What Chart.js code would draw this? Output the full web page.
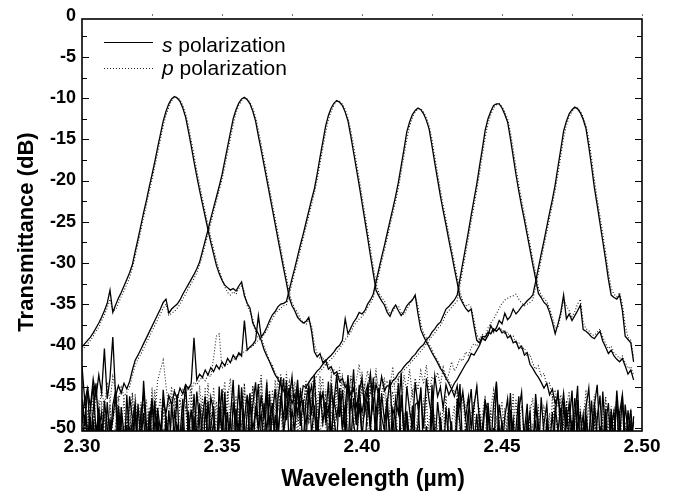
<!DOCTYPE html>
<html>
<head>
<meta charset="utf-8">
<script src="https://cdn.jsdelivr.net/npm/chart.js@4.4.1/dist/chart.umd.min.js"></script>
<style>
  html, body { margin: 0; padding: 0; background: #fff; }
  #wrap { width: 677px; height: 496px; position: relative; }
</style>
</head>
<body>
<div id="wrap"><canvas id="chart"></canvas></div>
<script>
// wavelength grid, µm
const wavelength = [
  2.300, 2.301, 2.302, 2.303, 2.304, 2.305, 2.306, 2.307, 2.308, 2.309,
  2.310, 2.311, 2.312, 2.313, 2.314, 2.315, 2.316, 2.317, 2.318, 2.319,
  2.320, 2.321, 2.322, 2.323, 2.324, 2.325, 2.326, 2.327, 2.328, 2.329,
  2.330, 2.331, 2.332, 2.333, 2.334, 2.335, 2.336, 2.337, 2.338, 2.339,
  2.340, 2.341, 2.342, 2.343, 2.344, 2.345, 2.346, 2.347, 2.348, 2.349,
  2.350, 2.351, 2.352, 2.353, 2.354, 2.355, 2.356, 2.357, 2.358, 2.359,
  2.360, 2.361, 2.362, 2.363, 2.364, 2.365, 2.366, 2.367, 2.368, 2.369,
  2.370, 2.371, 2.372, 2.373, 2.374, 2.375, 2.376, 2.377, 2.378, 2.379,
  2.380, 2.381, 2.382, 2.383, 2.384, 2.385, 2.386, 2.387, 2.388, 2.389,
  2.390, 2.391, 2.392, 2.393, 2.394, 2.395, 2.396, 2.397, 2.398, 2.399,
  2.400, 2.401, 2.402, 2.403, 2.404, 2.405, 2.406, 2.407, 2.408, 2.409,
  2.410, 2.411, 2.412, 2.413, 2.414, 2.415, 2.416, 2.417, 2.418, 2.419,
  2.420, 2.421, 2.422, 2.423, 2.424, 2.425, 2.426, 2.427, 2.428, 2.429,
  2.430, 2.431, 2.432, 2.433, 2.434, 2.435, 2.436, 2.437, 2.438, 2.439,
  2.440, 2.441, 2.442, 2.443, 2.444, 2.445, 2.446, 2.447, 2.448, 2.449,
  2.450, 2.451, 2.452, 2.453, 2.454, 2.455, 2.456, 2.457, 2.458, 2.459,
  2.460, 2.461, 2.462, 2.463, 2.464, 2.465, 2.466, 2.467, 2.468, 2.469,
  2.470, 2.471, 2.472, 2.473, 2.474, 2.475, 2.476, 2.477, 2.478, 2.479,
  2.480, 2.481, 2.482, 2.483, 2.484, 2.485, 2.486, 2.487, 2.488, 2.489,
  2.490, 2.491, 2.492, 2.493, 2.494, 2.495, 2.496, 2.497
];

const xTicks = [2.30, 2.35, 2.40, 2.45, 2.50];
const xTopMarks = [2.325, 2.35, 2.375, 2.40, 2.425, 2.45, 2.475, 2.50];
const yTicks = [-50, -45, -40, -35, -30, -25, -20, -15, -10, -5, 0];
const yMinor = [-50, -47.5, -45, -42.5, -40, -37.5, -35, -32.5, -30, -27.5, -25,
  -22.5, -20, -17.5, -15, -12.5, -10, -7.5, -5, -2.5];

// s polarization, transmittance in dB, one array per channel
const s1 = [
  -40.2,-39.8,-39.4,-39.0,-38.5,-37.9,-37.3,-36.6,-35.8,-34.9,
  -33.3,-36.0,-35.1,-34.3,-33.6,-32.8,-32.0,-31.2,-30.2,-28.6,
  -27.1,-25.5,-23.9,-22.4,-20.8,-19.3,-17.7,-16.0,-14.4,-12.8,
  -11.6,-10.7,-10.1,-9.8,-10.0,-10.4,-11.2,-12.3,-14.0,-15.8,
  -17.7,-19.5,-21.2,-22.8,-24.4,-26.0,-27.5,-28.9,-30.3,-31.3,
  -32.1,-32.7,-33.0,-33.3,-33.1,-33.4,-32.8,-32.3,-34.0,-34.9,
  -35.5,-37.3,-38.0,-38.6,-39.4,-40.5,-41.3,-42.0,-42.8,-43.6,
  -44.1,-44.8,-45.5,-46.2,-45.4,-47.1,-46.0,-48.3,-45.7,-47.8,
  -49.6,-46.4,-44.9,-48.1,-50.7,-46.9,-45.8,-49.2,-47.5,-51.3,
  -46.7,-48.8,-45.9,-50.2,-47.3,-52.0,-46.5,-49.4,-51.8,-47.0,
  -50.9,-53.2,-46.8,-49.9,-52.6,-48.3,-45.2,-51.0,-54.1,-47.6,
  -50.5,-53.4,-49.1,-44.6,-52.7,-55.0,-48.0,-51.6,-54.3,-47.2,
  -46.9,-52.9,-55.6,-49.8,-53.1,-44.8,-51.2,-56.0,-48.7,-52.4,
  -54.8,-47.6,-50.6,-55.3,-46.5,-49.5,-53.7,-56.2,-48.1,-45.3,
  -51.4,-54.5,-48.4,-52.8,-55.9,-47.0,-50.9,-53.9,-44.4,-51.9,
  -49.2,-54.6,-56.4,-47.8,-52.2,-50.1,-46.2,-55.5,-53.3,-48.6,
  -51.1,-54.0,-45.9,-49.7,-53.6,-56.8,-48.9,-52.5,-55.2,-47.4,
  -50.4,-54.9,-46.8,-51.7,-53.0,-55.7,-49.0,-44.9,-54.2,-56.6,
  -48.5,-52.0,-55.8,-47.1,-50.8,-53.5,-45.6,-51.5,-54.4,-48.2,
  -52.3,-46.4,-55.1,-50.6,-53.8,-47.9,-51.2,-49.3
];
const s2 = [
  -42.5,-46.8,-45.2,-47.5,-44.1,-46.3,-43.6,-45.8,-40.4,-46.5,
  -44.0,-39.0,-46.2,-44.9,-45.8,-44.6,-45.3,-44.4,-43.0,-41.8,
  -41.2,-40.5,-39.8,-39.1,-38.4,-37.7,-37.0,-36.3,-35.6,-34.8,
  -34.4,-36.1,-35.6,-35.3,-35.0,-34.5,-33.8,-33.2,-32.6,-32.0,
  -31.4,-30.7,-29.9,-28.6,-27.3,-26.0,-24.6,-23.3,-22.0,-20.7,
  -19.3,-17.6,-15.9,-14.2,-12.5,-11.4,-10.6,-10.1,-9.9,-10.2,
  -10.7,-11.6,-12.8,-14.6,-16.3,-18.1,-19.9,-21.7,-23.5,-25.3,
  -27.1,-28.9,-30.7,-32.4,-34.2,-35.2,-35.8,-36.6,-37.0,-37.3,
  -37.1,-36.6,-38.3,-40.8,-41.4,-41.0,-42.1,-41.8,-42.9,-42.6,
  -43.5,-43.2,-44.4,-44.0,-45.1,-44.7,-46.0,-45.2,-47.4,-45.9,
  -48.2,-46.1,-44.8,-49.5,-47.0,-51.2,-45.6,-48.7,-50.3,-46.4,
  -52.1,-47.7,-49.0,-53.5,-46.0,-50.8,-48.5,-54.2,-47.3,-51.5,
  -49.6,-45.1,-53.0,-50.2,-55.4,-48.0,-52.7,-46.9,-50.0,-54.6,
  -47.5,-51.9,-49.3,-56.1,-48.8,-44.7,-53.3,-50.7,-47.9,-55.0,
  -52.0,-48.3,-54.4,-49.9,-46.6,-51.3,-55.7,-50.0,-53.1,-47.2,
  -49.7,-54.0,-51.0,-45.8,-52.6,-56.3,-48.6,-53.8,-50.5,-47.1,
  -55.2,-51.8,-49.1,-53.9,-46.3,-50.9,-55.9,-52.2,-48.1,-54.7,
  -50.3,-47.6,-53.4,-56.5,-49.4,-45.5,-52.5,-55.1,-50.8,-48.4,
  -54.0,-51.1,-46.7,-53.6,-56.0,-49.8,-52.9,-47.7,-55.5,-50.1,
  -48.0,-53.7,-51.4,-46.1,-54.9,-50.6,-47.8,-52.3
];
const s3 = [
  -49.5,-46.2,-51.3,-47.8,-44.9,-50.6,-48.1,-53.0,-46.7,-49.9,
  -52.4,-47.3,-45.5,-50.8,-48.6,-54.1,-46.0,-51.7,-49.2,-47.0,
  -53.3,-48.4,-45.8,-51.0,-49.7,-46.4,-52.2,-47.6,-50.4,-46.9,
  -48.3,-46.1,-47.2,-45.6,-46.5,-45.2,-45.9,-44.8,-45.3,-44.6,
  -39.1,-44.2,-43.5,-43.9,-43.0,-43.6,-42.7,-43.2,-42.4,-42.9,
  -42.0,-42.5,-41.6,-42.1,-41.2,-41.7,-40.9,-41.3,-37.0,-40.6,
  -40.2,-39.9,-39.4,-36.4,-39.0,-38.5,-37.8,-37.0,-36.3,-35.9,
  -35.3,-35.0,-34.9,-34.7,-33.3,-31.9,-30.6,-29.2,-27.8,-26.5,
  -25.1,-23.7,-22.3,-21.0,-19.2,-17.2,-15.3,-13.4,-12.1,-11.2,
  -10.6,-10.3,-10.5,-10.9,-11.7,-12.8,-14.6,-16.6,-18.6,-20.6,
  -22.7,-24.8,-26.9,-29.1,-31.2,-33.3,-34.0,-34.6,-35.1,-36.0,
  -36.5,-35.6,-35.1,-35.8,-36.4,-35.9,-35.2,-34.8,-34.5,-33.9,
  -36.2,-38.1,-38.9,-39.6,-40.2,-40.9,-41.5,-42.1,-42.8,-43.3,
  -44.0,-44.6,-45.3,-46.2,-44.9,-47.7,-45.6,-48.9,-46.3,-50.1,
  -47.4,-45.0,-49.3,-51.6,-46.8,-48.2,-52.5,-47.1,-44.6,-50.0,
  -53.2,-48.7,-46.5,-51.4,-49.0,-54.5,-47.9,-45.7,-52.0,-50.6,
  -48.0,-55.3,-46.9,-51.1,-53.7,-49.5,-47.2,-52.8,-56.0,-48.5,
  -45.4,-50.7,-54.2,-47.5,-51.9,-49.1,-55.6,-46.6,-53.4,-50.2,
  -48.8,-52.6,-56.4,-47.3,-44.8,-51.2,-54.8,-49.6,-47.0,-53.0,
  -50.9,-55.8,-48.2,-46.0,-52.1,-54.3,-49.4,-51.7
];
const s4 = [
  -46.5,-49.8,-45.1,-52.0,-47.9,-44.6,-50.3,-48.2,-53.6,-46.9,
  -51.4,-49.0,-45.9,-54.3,-47.5,-50.7,-52.9,-46.2,-48.8,-55.0,
  -47.1,-51.8,-44.3,-49.6,-53.1,-46.8,-50.0,-48.5,-52.6,-45.4,
  -49.2,-54.7,-47.0,-51.1,-46.0,-53.4,-48.9,-44.7,-50.6,-47.8,
  -52.3,-45.6,-49.4,-55.2,-47.6,-51.5,-46.3,-48.0,-53.8,-45.0,
  -50.9,-47.2,-54.0,-48.7,-44.2,-51.9,-49.5,-46.7,-52.8,-48.1,
  -45.8,-53.2,-47.4,-50.2,-46.1,-49.0,-44.5,-51.3,-48.4,-45.3,
  -50.5,-47.0,-44.0,-49.1,-46.4,-43.8,-48.6,-45.5,-47.3,-44.9,
  -45.1,-44.5,-44.0,-43.6,-43.1,-42.8,-42.3,-41.9,-41.5,-41.2,
  -40.8,-40.3,-40.0,-39.4,-36.8,-38.6,-37.9,-37.2,-36.7,-36.0,
  -36.2,-35.8,-35.0,-34.5,-33.8,-32.3,-30.8,-29.3,-27.9,-26.4,
  -24.9,-23.4,-21.9,-20.2,-18.2,-16.2,-14.1,-12.9,-12.0,-11.5,
  -11.2,-11.4,-11.9,-12.7,-13.8,-15.8,-17.9,-19.9,-21.9,-23.7,
  -25.4,-27.2,-28.9,-30.7,-32.4,-34.2,-34.9,-35.5,-35.9,-35.6,
  -37.6,-39.4,-39.7,-38.9,-39.0,-38.4,-38.6,-38.0,-38.3,-37.9,
  -38.5,-38.3,-39.1,-38.8,-39.7,-39.5,-40.4,-40.1,-41.2,-40.9,
  -42.3,-42.8,-43.4,-43.9,-44.5,-45.2,-44.6,-46.0,-45.3,-47.1,
  -46.2,-48.5,-45.8,-49.7,-47.0,-51.2,-46.4,-50.0,-48.3,-52.6,
  -47.5,-45.2,-50.9,-53.8,-48.9,-46.1,-52.4,-49.3,-55.0,-47.8,
  -51.6,-45.5,-49.9,-53.3,-47.2,-50.7,-54.5,-48.6
];
const s5 = [
  -53.1,-48.4,-51.9,-55.6,-49.2,-52.7,-47.6,-54.4,-50.5,-56.2,
  -48.9,-52.3,-55.0,-47.3,-51.2,-53.9,-49.7,-56.8,-50.9,-47.9,
  -54.5,-51.6,-48.2,-55.3,-49.8,-52.9,-46.7,-53.5,-50.3,-55.9,
  -48.6,-51.4,-54.2,-47.8,-50.7,-53.0,-49.1,-56.4,-48.0,-52.2,
  -45.9,-51.0,-54.8,-48.7,-46.2,-52.5,-50.0,-47.4,-53.6,-49.5,
  -45.3,-51.8,-48.1,-54.1,-46.9,-50.4,-44.8,-52.0,-48.9,-46.0,
  -51.5,-47.2,-44.5,-50.1,-48.3,-53.3,-45.7,-49.4,-47.0,-52.8,
  -46.4,-43.9,-50.6,-48.0,-45.2,-51.7,-47.5,-44.2,-49.8,-46.6,
  -52.1,-45.0,-48.5,-43.7,-50.2,-47.1,-45.8,-49.0,-44.4,-51.3,
  -46.8,-43.5,-48.7,-45.4,-50.9,-44.1,-47.7,-42.9,-49.6,-45.6,
  -44.0,-48.2,-45.9,-43.4,-47.3,-44.7,-46.1,-43.8,-45.5,-44.9,
  -45.0,-44.3,-44.0,-43.4,-43.1,-42.6,-42.2,-41.9,-41.4,-41.1,
  -40.6,-40.2,-39.9,-39.3,-39.0,-38.4,-38.0,-37.5,-37.2,-36.4,
  -35.6,-35.3,-34.9,-34.5,-33.9,-31.9,-30.0,-28.1,-26.2,-24.2,
  -22.3,-20.4,-18.2,-16.1,-13.9,-12.5,-11.6,-10.9,-10.7,-10.7,
  -11.2,-12.0,-12.9,-14.9,-17.1,-19.3,-21.3,-23.1,-24.8,-26.6,
  -28.4,-30.2,-31.9,-33.7,-34.2,-34.8,-35.1,-36.0,-37.2,-38.6,
  -37.4,-36.0,-33.9,-36.8,-36.2,-37.0,-36.4,-35.8,-35.1,-38.1,
  -38.3,-38.6,-39.0,-39.2,-38.7,-38.3,-39.5,-40.2,-41.0,-40.6,
  -41.3,-41.7,-42.0,-41.6,-42.5,-43.5,-43.0,-44.2
];
const s6 = [
  -55.2,-50.8,-53.4,-48.7,-56.5,-51.9,-54.0,-49.5,-57.1,-52.4,
  -50.1,-55.8,-53.0,-48.3,-54.6,-51.2,-56.9,-49.9,-53.7,-47.6,
  -52.8,-55.5,-50.4,-54.3,-48.0,-51.5,-56.0,-49.2,-53.2,-50.7,
  -55.1,-47.9,-52.1,-54.9,-49.7,-51.0,-46.5,-53.8,-50.0,-55.4,
  -48.6,-52.7,-47.1,-50.9,-54.2,-46.8,-51.7,-49.3,-53.5,-47.4,
  -50.6,-45.7,-52.4,-48.8,-55.0,-47.7,-51.4,-45.1,-49.8,-53.1,
  -46.3,-50.2,-48.1,-44.7,-52.9,-47.0,-50.5,-45.9,-53.6,-48.4,
  -51.8,-46.1,-49.0,-44.3,-52.2,-47.8,-50.3,-45.4,-48.2,-51.9,
  -46.7,-44.9,-50.8,-47.3,-53.3,-45.6,-49.4,-46.9,-52.5,-44.6,
  -48.9,-51.6,-45.2,-50.0,-47.5,-43.6,-52.0,-46.4,-49.7,-44.8,
  -51.2,-47.1,-45.3,-50.4,-43.9,-48.6,-52.7,-45.8,-49.1,-47.0,
  -44.2,-50.6,-46.6,-48.3,-43.3,-51.5,-45.0,-47.9,-49.9,-44.5,
  -47.4,-45.7,-50.1,-44.0,-46.8,-48.7,-43.7,-46.2,-45.1,-47.6,
  -44.8,-46.0,-45.3,-44.6,-44.1,-43.5,-42.9,-42.3,-41.8,-41.0,
  -41.2,-40.6,-40.0,-39.1,-39.4,-38.8,-37.6,-38.3,-37.9,-37.0,
  -37.4,-36.1,-36.9,-36.5,-35.6,-36.2,-35.8,-35.3,-35.0,-34.6,
  -34.3,-33.9,-32.3,-30.6,-28.9,-27.3,-25.6,-23.9,-22.3,-20.5,
  -18.3,-16.2,-14.0,-12.8,-11.9,-11.4,-11.1,-11.3,-11.8,-12.6,
  -13.7,-15.9,-18.3,-20.9,-23.0,-25.2,-27.4,-29.6,-32.0,-33.9,
  -34.2,-34.4,-33.9,-35.8,-38.9,-39.3,-39.7,-42.0
];

// p polarization, transmittance in dB
const p1 = [
  -40.6,-40.2,-39.8,-39.4,-38.9,-38.3,-37.8,-37.0,-36.3,-35.5,
  -34.4,-35.8,-35.7,-34.9,-34.1,-33.4,-32.6,-31.8,-30.6,-29.2,
  -27.7,-26.1,-24.5,-23.0,-21.4,-19.9,-18.3,-16.7,-15.0,-13.4,
  -12.1,-11.1,-10.3,-9.9,-9.9,-10.2,-10.9,-11.9,-13.3,-15.1,
  -16.9,-18.8,-20.5,-22.2,-23.8,-25.4,-26.9,-28.3,-29.7,-30.9,
  -31.9,-32.9,-33.6,-33.9,-33.5,-33.8,-33.1,-32.8,-33.5,-35.2,
  -35.9,-36.8,-38.3,-39.2,-39.0,-40.1,-41.0,-41.9,-42.4,-43.3,
  -44.0,-43.6,-44.9,-45.6,-44.8,-46.3,-45.5,-47.0,-46.1,-48.2,
  -46.9,-49.3,-47.4,-45.8,-48.6,-50.9,-47.7,-46.2,-49.9,-48.0,
  -51.7,-47.0,-45.3,-49.1,-52.3,-48.4,-46.6,-50.6,-53.5,-47.2,
  -49.5,-44.6,-51.2,-48.7,-54.0,-50.1,-46.3,-52.8,-49.0,-55.2,
  -47.9,-51.8,-45.9,-53.6,-50.5,-48.2,-55.7,-51.1,-47.5,-53.0,
  -49.7,-56.1,-52.1,-46.0,-54.3,-50.8,-48.5,-55.3,-51.6,-47.1,
  -53.9,-49.8,-56.5,-52.5,-45.6,-51.4,-54.7,-48.8,-55.9,-50.2,
  -46.8,-53.3,-57.0,-49.4,-52.0,-55.1,-47.8,-51.0,-54.4,-49.1,
  -56.3,-52.6,-48.1,-54.9,-50.7,-46.5,-53.1,-55.8,-49.6,-52.2,
  -47.3,-55.0,-51.3,-48.9,-56.7,-53.4,-47.6,-50.4,-54.1,-46.1,
  -52.7,-55.6,-49.3,-51.9,-47.0,-54.6,-50.9,-56.0,-48.4,-53.7,
  -51.5,-46.7,-55.4,-49.0,-52.4,-57.2,-48.7,-53.5,-50.0,-47.4,
  -54.2,-51.2,-48.0,-55.5,-49.8,-52.9,-47.7,-53.1
];
const p2 = [
  -48.8,-46.5,-49.7,-47.1,-50.4,-46.0,-48.3,-45.2,-47.6,-44.5,
  -46.9,-43.8,-45.6,-46.8,-45.1,-46.2,-45.7,-45.0,-43.7,-42.4,
  -41.7,-41.1,-40.4,-39.7,-39.0,-38.3,-37.6,-36.9,-36.2,-35.5,
  -35.0,-36.4,-36.1,-35.9,-35.5,-35.0,-34.4,-33.8,-33.1,-32.5,
  -31.9,-31.2,-30.2,-29.1,-27.8,-26.5,-25.2,-23.8,-22.5,-21.2,
  -19.9,-18.3,-16.6,-14.9,-13.2,-11.8,-10.9,-10.3,-10.0,-10.1,
  -10.5,-11.2,-12.3,-13.9,-15.6,-17.4,-19.2,-21.0,-22.8,-24.6,
  -26.4,-28.2,-30.0,-31.7,-33.5,-34.8,-35.5,-36.0,-36.8,-37.2,
  -37.5,-36.9,-37.6,-39.9,-41.0,-41.6,-41.4,-42.5,-42.2,-43.3,
  -43.0,-44.1,-43.8,-44.9,-44.5,-45.8,-45.1,-46.7,-45.4,-47.9,
  -44.8,-46.3,-48.8,-45.1,-47.2,-50.3,-46.0,-48.1,-44.9,-51.0,
  -47.4,-45.6,-49.6,-52.4,-46.7,-48.9,-53.1,-47.8,-45.3,-50.7,
  -48.2,-54.0,-46.4,-51.5,-49.1,-47.0,-55.2,-50.0,-48.4,-52.6,
  -46.1,-53.8,-49.4,-47.3,-54.7,-51.3,-45.9,-50.5,-53.0,-48.0,
  -55.4,-49.9,-47.5,-52.1,-50.8,-46.9,-54.3,-51.7,-48.6,-56.0,
  -50.4,-47.6,-53.5,-49.2,-55.8,-51.1,-46.3,-52.9,-54.5,-48.8,
  -51.9,-49.5,-55.6,-47.2,-53.2,-50.6,-56.4,-48.2,-52.0,-54.8,
  -49.0,-46.6,-53.7,-51.4,-55.0,-48.5,-52.5,-50.1,-47.4,-54.1,
  -51.8,-56.6,-49.7,-53.0,-47.9,-55.3,-50.9,-52.8,-48.3,-54.6,
  -50.2,-47.0,-55.9,-51.6,-49.3,-53.4,-56.2,-50.5
];
const p3 = [
  -51.8,-48.0,-50.2,-53.7,-47.4,-49.9,-52.5,-46.8,-51.1,-48.6,
  -54.0,-49.3,-47.0,-52.7,-50.5,-46.3,-53.4,-48.7,-51.6,-45.9,
  -50.8,-47.7,-49.5,-46.6,-52.2,-45.1,-48.9,-44.3,-43.0,-41.8,
  -44.9,-47.5,-46.3,-47.8,-45.9,-46.9,-45.4,-46.1,-44.9,-45.7,
  -44.5,-44.8,-44.2,-43.9,-44.3,-43.6,-43.8,-41.5,-38.9,-38.6,
  -42.8,-42.5,-42.3,-41.9,-41.8,-41.4,-41.3,-40.9,-40.8,-40.5,
  -40.3,-40.1,-39.7,-39.4,-39.2,-38.7,-38.2,-37.4,-36.8,-36.2,
  -35.8,-35.5,-35.2,-35.1,-33.9,-32.5,-31.1,-29.8,-28.4,-27.0,
  -25.7,-24.3,-22.9,-21.5,-19.9,-18.0,-16.1,-14.2,-12.6,-11.6,
  -10.8,-10.4,-10.4,-10.7,-11.4,-12.4,-13.9,-15.8,-17.8,-19.8,
  -21.9,-24.0,-26.1,-28.2,-30.4,-32.5,-33.6,-34.2,-34.6,-35.5,
  -36.2,-35.9,-35.3,-35.2,-36.0,-36.3,-35.6,-35.1,-34.4,-34.0,
  -35.3,-37.4,-38.5,-39.1,-39.9,-40.5,-41.3,-41.8,-42.6,-43.0,
  -43.7,-44.3,-44.9,-45.7,-45.2,-46.8,-45.9,-47.6,-46.4,-49.1,
  -47.0,-45.2,-50.4,-48.3,-46.1,-51.9,-47.7,-45.5,-52.6,-49.0,
  -46.8,-53.7,-48.5,-50.9,-45.8,-54.4,-49.6,-47.3,-51.8,-55.1,
  -48.1,-46.4,-52.3,-50.0,-54.8,-47.6,-49.3,-53.5,-45.9,-51.2,
  -55.5,-48.9,-52.7,-46.7,-50.3,-54.1,-47.9,-51.5,-56.0,-49.4,
  -45.4,-52.8,-50.6,-47.4,-55.3,-49.8,-53.2,-46.2,-51.0,-54.6,
  -48.4,-52.0,-55.7,-47.1,-50.7,-53.9,-49.1,-52.5
];
const p4 = [
  -50.3,-53.9,-47.8,-51.5,-49.0,-54.6,-46.7,-52.2,-48.4,-50.9,
  -47.2,-53.3,-49.8,-46.1,-51.7,-55.0,-48.6,-50.1,-45.7,-52.9,
  -49.4,-46.9,-54.2,-50.7,-47.5,-51.2,-45.4,-49.9,-53.6,-47.9,
  -51.4,-48.2,-45.0,-50.6,-53.1,-46.6,-49.2,-52.4,-47.3,-44.8,
  -50.0,-48.0,-53.0,-46.2,-51.0,-44.6,-49.5,-47.1,-52.5,-45.9,
  -48.7,-51.6,-46.4,-44.0,-50.2,-47.6,-53.8,-45.3,-49.1,-46.8,
  -51.3,-44.9,-48.4,-46.0,-43.5,-50.5,-47.4,-45.5,-49.7,-44.2,
  -47.7,-45.8,-50.8,-43.2,-48.0,-46.5,-44.4,-49.3,-45.1,-46.9,
  -45.7,-45.0,-44.6,-44.1,-43.7,-43.2,-42.8,-42.4,-42.0,-41.7,
  -41.3,-40.8,-40.4,-39.9,-39.3,-38.9,-38.4,-37.7,-37.2,-36.8,
  -36.5,-36.1,-35.4,-34.9,-34.3,-32.9,-31.4,-29.9,-28.5,-27.0,
  -25.5,-24.0,-22.5,-20.9,-19.0,-17.0,-15.0,-13.4,-12.4,-11.7,
  -11.3,-11.3,-11.7,-12.4,-13.4,-15.0,-17.1,-19.1,-21.1,-23.0,
  -24.7,-26.5,-28.2,-30.0,-31.7,-33.5,-34.6,-35.3,-35.0,-35.4,
  -36.9,-38.7,-39.3,-39.5,-38.8,-38.9,-38.2,-38.5,-37.8,-38.1,
  -38.0,-38.6,-38.4,-39.2,-38.9,-39.8,-39.6,-40.5,-40.3,-41.3,
  -41.1,-42.2,-42.9,-42.5,-43.8,-43.4,-45.0,-44.6,-46.3,-45.4,
  -47.5,-46.0,-49.2,-47.3,-45.6,-50.8,-48.1,-46.7,-52.0,-49.5,
  -47.0,-53.4,-50.2,-45.9,-51.7,-54.6,-48.8,-46.3,-52.9,-50.0,
  -47.7,-54.0,-49.2,-46.5,-51.9,-48.3,-53.6,-50.6
];
const p5 = [
  -47.5,-51.2,-54.8,-49.0,-46.3,-52.6,-50.1,-55.3,-48.2,-51.8,
  -46.9,-53.5,-49.7,-47.4,-54.1,-50.5,-48.0,-52.9,-45.8,-51.0,
  -55.6,-49.4,-47.1,-52.3,-50.0,-45.6,-53.8,-48.5,-46.4,-51.5,
  -49.1,-54.4,-47.8,-45.3,-50.8,-52.7,-48.3,-46.0,-53.1,-49.6,
  -47.2,-51.9,-44.9,-48.8,-53.4,-46.6,-50.3,-45.1,-49.2,-52.0,
  -47.0,-44.4,-50.9,-48.1,-45.7,-52.4,-47.6,-49.9,-44.6,-51.3,
  -48.6,-45.0,-47.3,-50.6,-44.1,-49.0,-46.2,-52.1,-45.4,-48.4,
  -43.8,-47.9,-50.2,-45.8,-48.7,-44.3,-46.9,-51.0,-45.2,-47.6,
  -44.7,-49.5,-46.5,-43.4,-48.2,-45.9,-44.0,-50.0,-46.6,-43.9,
  -47.3,-45.1,-42.7,-48.9,-44.5,-46.8,-43.6,-45.8,-44.2,-42.3,
  -46.0,-44.8,-43.1,-45.7,-44.4,-43.5,-45.2,-44.1,-44.7,-44.3,
  -45.4,-44.9,-44.5,-43.9,-43.6,-43.0,-42.7,-42.3,-41.9,-41.5,
  -41.1,-40.7,-40.3,-39.8,-39.4,-38.9,-38.5,-38.0,-37.6,-37.0,
  -36.2,-35.8,-35.4,-35.0,-34.6,-32.7,-30.8,-28.9,-27.0,-25.0,
  -23.1,-21.2,-19.1,-16.9,-14.8,-13.1,-12.0,-11.2,-10.8,-10.7,
  -11.0,-11.7,-12.5,-14.1,-16.2,-18.4,-20.5,-22.4,-24.1,-25.9,
  -27.7,-29.5,-31.2,-33.0,-33.9,-34.3,-34.7,-35.5,-36.6,-37.9,
  -37.8,-36.4,-34.5,-35.2,-35.8,-36.5,-35.9,-35.0,-34.4,-37.2,
  -38.0,-38.2,-38.7,-38.8,-38.4,-38.0,-39.0,-39.8,-40.4,-40.1,
  -40.9,-41.2,-41.6,-41.3,-42.1,-42.8,-42.6,-43.6
];
const p6 = [
  -52.6,-49.1,-55.7,-51.3,-48.5,-54.0,-50.2,-56.6,-47.9,-53.2,
  -49.6,-52.9,-55.9,-48.8,-51.6,-54.5,-49.3,-47.2,-53.6,-50.7,
  -56.2,-48.1,-52.3,-50.0,-54.8,-47.4,-51.2,-49.5,-55.4,-46.9,
  -50.4,-53.7,-48.4,-46.4,-52.0,-55.1,-49.0,-47.6,-51.9,-45.7,
  -53.4,-49.8,-47.0,-50.9,-45.1,-52.6,-48.2,-54.3,-46.8,-50.1,
  -47.5,-52.8,-45.5,-49.3,-51.4,-46.1,-48.9,-53.0,-44.7,-50.6,
  -47.9,-45.2,-51.1,-48.6,-46.3,-52.4,-44.1,-49.7,-47.1,-50.3,
  -45.6,-48.3,-52.1,-46.7,-44.5,-50.0,-47.8,-45.0,-51.4,-48.0,
  -44.2,-49.2,-46.0,-51.6,-47.4,-43.7,-49.9,-45.3,-48.5,-46.2,
  -50.7,-44.9,-47.7,-43.4,-49.6,-46.5,-44.0,-50.1,-45.7,-48.1,
  -43.2,-47.3,-49.4,-44.6,-46.9,-42.8,-48.4,-45.8,-43.9,-47.9,
  -45.1,-42.6,-46.6,-44.3,-48.1,-43.6,-45.6,-42.9,-46.3,-44.0,
  -45.4,-43.1,-44.7,-42.4,-45.9,-43.8,-44.4,-43.3,-44.9,-42.7,
  -44.2,-43.5,-42.0,-43.1,-42.5,-41.6,-41.9,-40.8,-41.2,-40.3,
  -39.8,-40.1,-39.2,-38.7,-38.9,-37.9,-37.3,-36.8,-36.2,-35.5,
  -34.9,-34.5,-34.3,-34.1,-34.0,-33.8,-34.4,-34.9,-35.2,-35.0,
  -34.8,-34.5,-32.9,-31.3,-29.6,-27.9,-26.3,-24.6,-22.9,-21.2,
  -19.2,-17.0,-14.9,-13.3,-12.3,-11.6,-11.2,-11.2,-11.6,-12.3,
  -13.3,-15.0,-17.3,-19.9,-22.2,-24.3,-26.5,-28.7,-31.0,-33.1,
  -33.8,-34.1,-33.6,-35.0,-37.6,-39.0,-39.4,-41.5
];

const sSeries = [s1, s2, s3, s4, s5, s6];
const pSeries = [p1, p2, p3, p4, p5, p6];

[...sSeries, ...pSeries].forEach((arr, i) => {
  if (arr.length !== wavelength.length) throw new Error('series ' + i + ' has ' + arr.length + ' values');
});

const FONT = '"Liberation Sans", Arial, Helvetica, sans-serif';
const toPoints = vals => vals.map((v, i) => ({ x: wavelength[i], y: v }));

// solid first so it ends up on top
const datasets = [
  ...sSeries.map((vals, i) => ({
    label: 's' + (i + 1), data: toPoints(vals),
    borderColor: '#000', borderWidth: 1.3, pointRadius: 0, fill: false
  })),
  ...pSeries.map((vals, i) => ({
    label: 'p' + (i + 1), data: toPoints(vals),
    borderColor: '#222', borderWidth: 1.1, borderDash: [1, 2], pointRadius: 0, fill: false
  }))
];

const frame = {
  id: 'frame',
  afterDraw(chart) {
    const { ctx, chartArea: a, scales: { x, y } } = chart;
    ctx.save();
    ctx.strokeStyle = '#000';
    ctx.lineWidth = 1.6;
    ctx.strokeRect(a.left, a.top, a.right - a.left, a.bottom - a.top);

    ctx.lineWidth = 1;
    ctx.beginPath();
    yMinor.forEach(v => {
      const py = Math.round(y.getPixelForValue(v)) + 0.5;
      const len = v % 5 === 0 ? 7 : 5;
      ctx.moveTo(a.left, py); ctx.lineTo(a.left + len, py);
      ctx.moveTo(a.right, py); ctx.lineTo(a.right - len, py);
    });
    ctx.stroke();

    ctx.strokeStyle = '#777';
    ctx.beginPath();
    xTopMarks.forEach(v => {
      const px = Math.round(x.getPixelForValue(v)) + 0.5;
      ctx.moveTo(px, a.top - 5); ctx.lineTo(px, a.top - 3);
    });
    ctx.stroke();

    // legend
    ctx.strokeStyle = '#000';
    ctx.lineWidth = 1.2;
    ctx.beginPath(); ctx.moveTo(104, 42.5); ctx.lineTo(153, 42.5); ctx.stroke();
    ctx.strokeStyle = '#222';
    ctx.lineWidth = 1.1;
    ctx.setLineDash([1, 2]);
    ctx.beginPath(); ctx.moveTo(104, 68.5); ctx.lineTo(153, 68.5); ctx.stroke();
    ctx.setLineDash([]);

    ctx.fillStyle = '#000';
    ctx.textBaseline = 'alphabetic';
    ctx.textAlign = 'left';
    [['s', 51.5], ['p', 75]].forEach(([sym, base]) => {
      ctx.font = 'italic 21px ' + FONT;
      ctx.fillText(sym, 162, base);
      const w = ctx.measureText(sym).width;
      ctx.font = '21px ' + FONT;
      ctx.fillText(' polarization', 162 + w, base);
    });

    // axis titles
    ctx.font = 'bold 23px ' + FONT;
    ctx.textAlign = 'center';
    ctx.fillText('Wavelength (\u00b5m)', 373, 486);
    ctx.save();
    ctx.translate(33, 232);
    ctx.rotate(-Math.PI / 2);
    ctx.font = 'bold 22px ' + FONT;
    ctx.fillText('Transmittance (dB)', 0, 0);
    ctx.restore();

    ctx.restore();
  }
};

new Chart(document.getElementById('chart'), {
  type: 'line',
  data: { datasets },
  options: {
    responsive: true,
    maintainAspectRatio: false,
    animation: false,
    devicePixelRatio: 1,
    layout: { padding: { top: 19, right: 35, bottom: 0, left: 0 } },
    plugins: { legend: { display: false }, tooltip: { enabled: false } },
    elements: { line: { tension: 0 }, point: { radius: 0 } },
    scales: {
      x: {
        type: 'linear', min: 2.30, max: 2.50,
        afterBuildTicks: s => { s.ticks = xTicks.map(v => ({ value: v })); },
        afterFit: s => { s.height = 65; },
        grid: { display: false, drawTicks: false },
        border: { display: false },
        ticks: {
          padding: 4, maxRotation: 0, autoSkip: false, color: '#000',
          font: { family: FONT, size: 19, weight: 'bold' },
          callback: v => Number(v).toFixed(2)
        }
      },
      y: {
        type: 'linear', min: -50.4, max: -0.4,
        afterBuildTicks: s => { s.ticks = yTicks.map(v => ({ value: v })); },
        afterFit: s => { s.width = 82; },
        grid: { display: false, drawTicks: false },
        border: { display: false },
        ticks: {
          padding: 6, autoSkip: false, color: '#000',
          font: { family: FONT, size: 18, weight: 'bold' },
          callback: v => String(v)
        }
      }
    }
  },
  plugins: [frame]
});
</script>
</body>
</html>
